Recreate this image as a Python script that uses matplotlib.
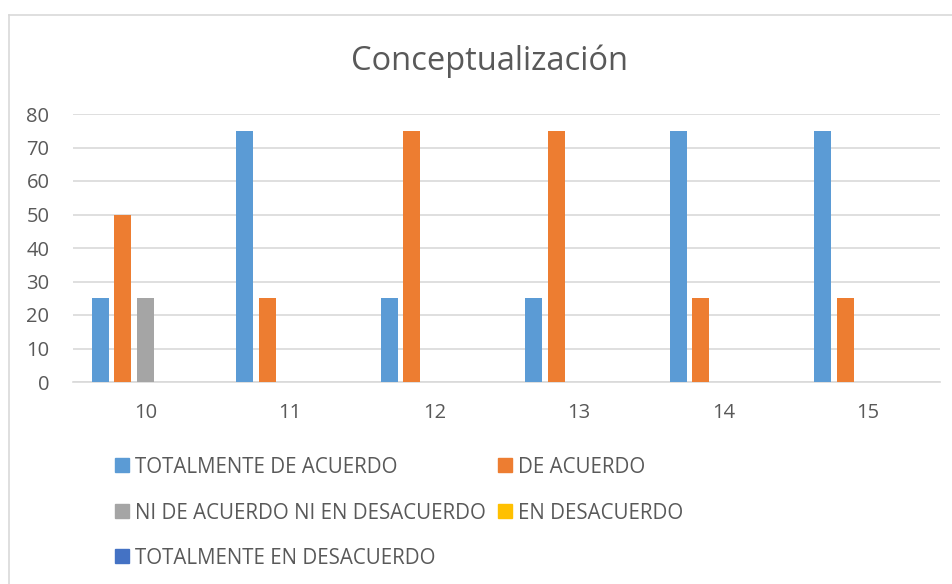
import matplotlib
matplotlib.use("Agg")
import matplotlib.pyplot as plt
import numpy as np
from matplotlib.lines import Line2D

categories = ["10", "11", "12", "13", "14", "15"]
series_names = ["TOTALMENTE DE ACUERDO", "DE ACUERDO",
                "NI DE ACUERDO NI EN DESACUERDO", "EN DESACUERDO",
                "TOTALMENTE EN DESACUERDO"]
totalmente_de_acuerdo = [25, 75, 25, 25, 75, 75]
de_acuerdo = [50, 25, 75, 75, 25, 25]
ni_de_acuerdo = [25, 0, 0, 0, 0, 0]
en_desacuerdo = [0, 0, 0, 0, 0, 0]
totalmente_en_desacuerdo = [0, 0, 0, 0, 0, 0]
yticks = [0, 10, 20, 30, 40, 50, 60, 70, 80]

colors = ["#5B9BD5", "#ED7D31", "#A5A5A5", "#FFC000", "#4472C4"]
values = [totalmente_de_acuerdo, de_acuerdo, ni_de_acuerdo, en_desacuerdo,
          totalmente_en_desacuerdo]

plt.rcParams['font.family'] = ['Open Sans', 'DejaVu Sans']
text_color = "#595959"

W, H = 953, 584
fig = plt.figure(figsize=(W / 100, H / 100), dpi=100)

left, right, top, bottom = 73, 940, 114, 382
ax = fig.add_axes([left / W, 1 - bottom / H, (right - left) / W, (bottom - top) / H])

x = np.arange(len(categories))
slot = 22.5 / 144.5
bw = 17 / 144.5
for i, (vals, c, name) in enumerate(zip(values, colors, series_names)):
    ax.bar(x + (i - 2) * slot, vals, width=bw, color=c, label=name, zorder=3)

ax.set_xlim(-0.5, len(categories) - 0.5)
ax.set_ylim(0, 80)
ax.set_yticks(yticks)
ax.set_xticks(x)
ax.set_xticklabels(categories)
ax.grid(axis="y", color="#D9D9D9", linewidth=1.2, zorder=0)
for s in ["top", "right", "left"]:
    ax.spines[s].set_visible(False)
ax.spines["bottom"].set_color("#D9D9D9")
ax.spines["bottom"].set_linewidth(1.2)
ax.tick_params(axis="both", length=0, labelsize=14.5, colors=text_color)
ax.tick_params(axis="x", pad=15)
ax.tick_params(axis="y", pad=17)

fig.text(490 / W, 1 - 61 / H, "Conceptualización", ha="center", va="center",
         fontsize=23.5, color=text_color)

fig.add_artist(Line2D([9 / W, 1], [1 - 15 / H, 1 - 15 / H], color="#D9D9D9", lw=1.2,
                      transform=fig.transFigure))
fig.add_artist(Line2D([9 / W, 9 / W], [1 - 15 / H, 0], color="#D9D9D9", lw=1.2,
                      transform=fig.transFigure))

positions = [(115, 465), (498, 465), (115, 511), (498, 511), (115, 556)]
for (px, py), name, c in zip(positions, series_names, colors):
    fig.patches.append(plt.Rectangle((px / W, 1 - (py + 7) / H), 14 / W, 14 / H,
                                     transform=fig.transFigure, color=c))
    fig.text((px + 20) / W, 1 - (py + 2.5) / H, name, ha="left", va="center",
             fontsize=14.8, color=text_color)

fig.savefig("out.png", dpi=100)
